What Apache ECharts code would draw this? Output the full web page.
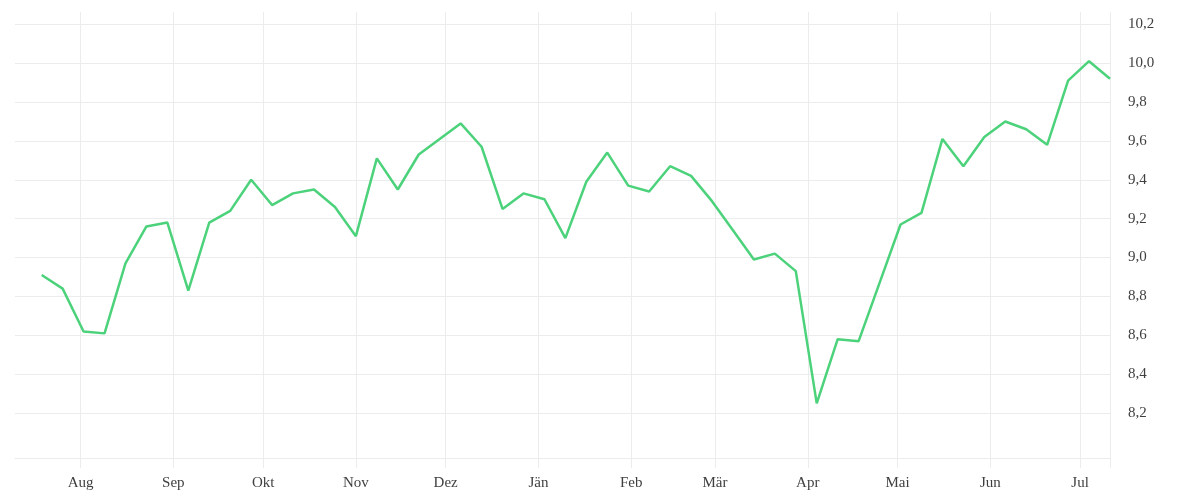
<!DOCTYPE html>
<html>
<head>
<meta charset="utf-8">
<script src="https://cdn.jsdelivr.net/npm/echarts@6/dist/echarts.min.js"></script>
<style>
html,body{margin:0;padding:0;background:#fff;}
#chart{width:1200px;height:500px;}
</style>
</head>
<body>
<div id="chart"></div>
<script>
// ---- data ----
const dates = [
  '2024-07-19','2024-07-26','2024-08-02','2024-08-09','2024-08-16','2024-08-23','2024-08-30',
  '2024-09-06','2024-09-13','2024-09-20','2024-09-27','2024-10-04','2024-10-11','2024-10-18',
  '2024-10-25','2024-11-01','2024-11-08','2024-11-15','2024-11-22','2024-11-29','2024-12-06',
  '2024-12-13','2024-12-20','2024-12-27','2025-01-03','2025-01-10','2025-01-17','2025-01-24',
  '2025-01-31','2025-02-07','2025-02-14','2025-02-21','2025-02-28','2025-03-07','2025-03-14',
  '2025-03-21','2025-03-28','2025-04-04','2025-04-11','2025-04-18','2025-04-25','2025-05-02',
  '2025-05-09','2025-05-16','2025-05-23','2025-05-30','2025-06-06','2025-06-13','2025-06-20',
  '2025-06-27','2025-07-04','2025-07-11'
];
const values = [
  8.91, 8.84, 8.62, 8.61, 8.97, 9.16, 9.18,
  8.83, 9.18, 9.24, 9.40, 9.27, 9.33, 9.35,
  9.26, 9.11, 9.51, 9.35, 9.53, 9.61, 9.69,
  9.57, 9.25, 9.33, 9.30, 9.10, 9.39, 9.54,
  9.37, 9.34, 9.47, 9.42, 9.29, 9.14, 8.99,
  9.02, 8.93, 8.25, 8.58, 8.57, 8.87, 9.17,
  9.23, 9.61, 9.47, 9.62, 9.70, 9.66, 9.58,
  9.91, 10.01, 9.92
];
const monthStarts = [
  '2024-08-01','2024-09-01','2024-10-01','2024-11-01','2024-12-01','2025-01-01',
  '2025-02-01','2025-03-01','2025-04-01','2025-05-01','2025-06-01','2025-07-01'
];
const monthLabels = ['Aug','Sep','Okt','Nov','Dez','Jän','Feb','Mär','Apr','Mai','Jun','Jul'];
const yTicks = [8.2, 8.4, 8.6, 8.8, 9.0, 9.2, 9.4, 9.6, 9.8, 10.0, 10.2];
const xRangeStart = '2024-07-10T02:00';
const yMin = 7.969, yMax = 10.263;

// ---- helpers ----
function ts(s) {
  const parts = s.split('T');
  const ymd = parts[0].split('-').map(Number);
  const h = parts[1] ? Number(parts[1].split(':')[0]) : 0;
  return Date.UTC(ymd[0], ymd[1] - 1, ymd[2], h);
}
const xMin = ts(xRangeStart);
const xMax = ts(dates[dates.length - 1]);
const monthTs = monthStarts.map(ts);
const labelMap = {};
monthTs.forEach(function (t, i) { labelMap[t] = monthLabels[i]; });

const seriesData = dates.map(function (d, i) { return [ts(d), values[i]]; });

const gridColor = '#ececec';
const textColor = '#3f3f3f';
const fontFamily = '"Liberation Serif", serif';

const chart = echarts.init(document.getElementById('chart'), null, {renderer: 'canvas'});
chart.setOption({
  animation: false,
  backgroundColor: '#ffffff',
  grid: {left: 15, right: 90, top: 12, bottom: 42, containLabel: false, outerBoundsMode: 'none'},
  xAxis: {
    type: 'value',
    min: xMin,
    max: xMax,
    scale: true,
    axisLine: {show: true, lineStyle: {color: gridColor, width: 1}},
    axisTick: {show: true, length: 10, lineStyle: {color: gridColor, width: 1},
               customValues: monthTs.concat([xMax])},
    splitLine: {show: true, lineStyle: {color: gridColor, width: 1}},
    axisLabel: {
      customValues: monthTs,
      margin: 18,
      color: textColor,
      fontFamily: fontFamily,
      fontSize: 15,
      formatter: function (v) { return labelMap[v] || ''; }
    }
  },
  yAxis: {
    type: 'value',
    position: 'right',
    min: yMin,
    max: yMax,
    axisLine: {show: false},
    axisTick: {show: false, customValues: yTicks},
    splitLine: {show: true, lineStyle: {color: gridColor, width: 1}},
    axisLabel: {
      customValues: yTicks,
      margin: 18,
      align: 'left',
      padding: [4, 0, 0, 0],
      color: textColor,
      fontFamily: fontFamily,
      fontSize: 15,
      formatter: function (v) { return v.toFixed(1).replace('.', ','); }
    }
  },
  series: [{
    type: 'line',
    data: seriesData,
    showSymbol: false,
    symbol: 'none',
    lineStyle: {color: '#4cd27b', width: 2.5},
    itemStyle: {color: '#4cd27b'}
  }]
});
</script>
</body>
</html>
